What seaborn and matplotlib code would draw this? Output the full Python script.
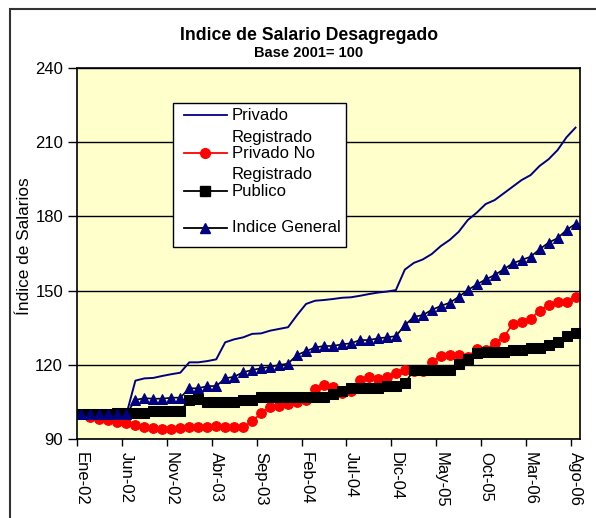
import numpy as np
import pandas as pd
import seaborn as sns
import matplotlib.pyplot as plt
from matplotlib.lines import Line2D
from matplotlib.patches import Rectangle

# Data (monthly Ene-02 .. Ago-06)
tick_labels = ["Ene-02", "Jun-02", "Nov-02", "Abr-03", "Sep-03", "Feb-04",
               "Jul-04", "Dic-04", "May-05", "Oct-05", "Mar-06", "Ago-06"]

privado = [99.5, 99.5, 99.5, 99.5, 99.5, 100.0, 113.6, 114.5, 114.7, 115.5,
           116.2, 116.8, 121.0, 121.0, 121.5, 122.2, 129.1, 130.3, 131.1, 132.5,
           132.7, 133.8, 134.5, 135.2, 140.1, 144.6, 145.9, 146.2, 146.6, 147.1,
           147.3, 147.9, 148.6, 149.2, 149.6, 150.2, 158.5, 161.2, 162.6, 164.8,
           168.0, 170.5, 173.8, 178.5, 181.5, 185.0, 186.6, 189.3, 192.0, 194.7,
           196.7, 200.4, 203.1, 206.8, 212.0, 215.9]

privado_no_reg = [100.0, 99.0, 97.9, 97.5, 97.0, 96.4, 95.7, 95.0, 94.3, 94.0,
                  94.0, 94.3, 94.7, 94.7, 94.7, 95.3, 94.7, 94.7, 94.7, 97.3,
                  100.4, 103.0, 103.5, 104.2, 105.1, 105.8, 110.1, 111.8, 110.9, 108.5,
                  109.5, 113.9, 115.2, 114.1, 115.2, 116.5, 117.7, 117.5, 117.6, 121.1,
                  123.4, 124.0, 124.0, 123.3, 126.3, 126.0, 128.8, 131.1, 136.5, 137.3,
                  138.6, 141.9, 144.2, 145.5, 145.5, 147.5]

publico = [100.0, 100.0, 100.0, 100.0, 100.7, 100.7, 100.7, 100.7, 101.5, 101.5,
           101.5, 101.5, 105.6, 106.3, 105.0, 105.0, 105.0, 105.0, 105.7, 105.7,
           107.1, 107.1, 107.1, 107.1, 107.1, 107.1, 107.1, 107.1, 108.2, 109.4,
           110.6, 110.6, 110.6, 110.6, 111.4, 111.4, 112.7, 117.7, 117.7, 117.7,
           117.7, 117.7, 120.3, 122.2, 124.9, 125.3, 125.3, 125.3, 126.0, 126.0,
           126.7, 126.7, 128.0, 129.3, 131.6, 133.0]

general = [100.0, 100.0, 100.0, 100.0, 100.0, 100.0, 105.8, 106.5, 106.3, 106.3,
           106.7, 106.7, 110.5, 110.5, 111.4, 111.4, 114.5, 115.2, 117.0, 117.9,
           118.6, 119.2, 119.9, 120.5, 124.0, 125.5, 127.0, 127.6, 127.6, 128.3,
           128.7, 130.0, 130.0, 130.7, 131.1, 131.6, 136.0, 139.4, 140.1, 142.2,
           143.8, 145.1, 147.5, 150.2, 152.5, 154.5, 156.3, 158.6, 161.0, 162.4,
           163.7, 166.7, 169.4, 171.2, 174.5, 177.0]

n = len(general)
pos = np.arange(n) + 0.5  # points sit in the middle of each month slot

W, H = 596, 518
fig = plt.figure(figsize=(W / 100, H / 100), dpi=100)
plt.rcParams['font.family'] = ['Liberation Sans', 'DejaVu Sans']


def fx(px):
    return px / W


def fy(py):
    return 1 - py / H


ax = fig.add_axes([fx(77), fy(439), (580 - 77) / W, (439 - 68) / H])
ax.set_facecolor('#FFFFCC')

navy = '#000080'
sns.lineplot(x=pos, y=privado, ax=ax, color=navy, linewidth=1.4)
sns.lineplot(x=pos, y=privado_no_reg, ax=ax, color='red', linewidth=1.2,
             marker='o', markersize=7, markeredgecolor='red', markerfacecolor='red')
sns.lineplot(x=pos, y=publico, ax=ax, color='black', linewidth=1.2,
             marker='s', markersize=6.5, markeredgecolor='black', markerfacecolor='black')
sns.lineplot(x=pos, y=general, ax=ax, color='black', linewidth=1.2,
             marker='^', markersize=7.5, markeredgecolor=navy, markerfacecolor=navy)

ax.set_xlim(0, n)
ax.set_ylim(90, 240)
ax.set_yticks(range(90, 241, 30))
ax.yaxis.grid(True, color='black', linewidth=1)
ax.xaxis.grid(False)
ax.set_axisbelow(True)

# tick marks on month boundaries, labels centered on the month
ax.set_xticks(np.arange(0, n, 5))
ax.set_xticklabels([])
ax.set_xticks(np.arange(0, n, 5) + 0.5, minor=True)
ax.set_xticklabels(tick_labels, minor=True, rotation=270, ha='center', va='top', fontsize=12)
ax.tick_params(axis='x', which='major', length=5, width=1, direction='out')
ax.tick_params(axis='x', which='minor', length=0, pad=9)
ax.tick_params(axis='y', length=6.5, width=1, direction='out', pad=3.5, labelsize=12)
for s in ax.spines.values():
    s.set_color('black')
    s.set_linewidth(1.2)
ax.set_xlabel('')
ax.set_ylabel('')

# titles
fig.text(fx(309), fy(35), 'Indice de Salario Desagregado', ha='center', va='center',
         fontsize=12.7, fontweight='bold')
fig.text(fx(309), fy(53), 'Base 2001= 100', ha='center', va='center',
         fontsize=10.5, fontweight='bold')
fig.text(fx(25), fy(246), 'Índice de Salarios', rotation=90, ha='center', va='center',
         fontsize=12.4)

# legend box drawn by hand to mimic the original layout
fig.add_artist(Rectangle((fx(173), fy(247)), (346 - 173) / W, (247 - 103) / H,
                         transform=fig.transFigure, facecolor='white',
                         edgecolor='black', linewidth=1, zorder=5))
entries = [
    (115, navy, None, navy, ['Privado'], [115]),
    (153, 'red', 'o', 'red', ['Registrado', 'Privado No'], [137.5, 153]),
    (191, 'black', 's', 'black', ['Registrado', 'Publico'], [175, 191]),
    (228, 'black', '^', navy, ['Indice General'], [228]),
]
for ly, lc, mk, mc, texts, tys in entries:
    fig.add_artist(Line2D([fx(184), fx(205), fx(227)], [fy(ly)] * 3,
                          transform=fig.transFigure, color=lc, linewidth=1.3,
                          marker=mk, markevery=[1], markersize=7,
                          markerfacecolor=mc, markeredgecolor=mc, zorder=6))
    for t, ty in zip(texts, tys):
        fig.text(fx(232), fy(ty), t, ha='left', va='center', fontsize=12, zorder=7)

# outer chart border (runs off the right and bottom edges)
fig.add_artist(Rectangle((fx(10), -0.1), 1.2, fy(9) + 0.1, transform=fig.transFigure,
                         fill=False, edgecolor='#333333', linewidth=1.5))

fig.savefig('out.png', dpi=100)
